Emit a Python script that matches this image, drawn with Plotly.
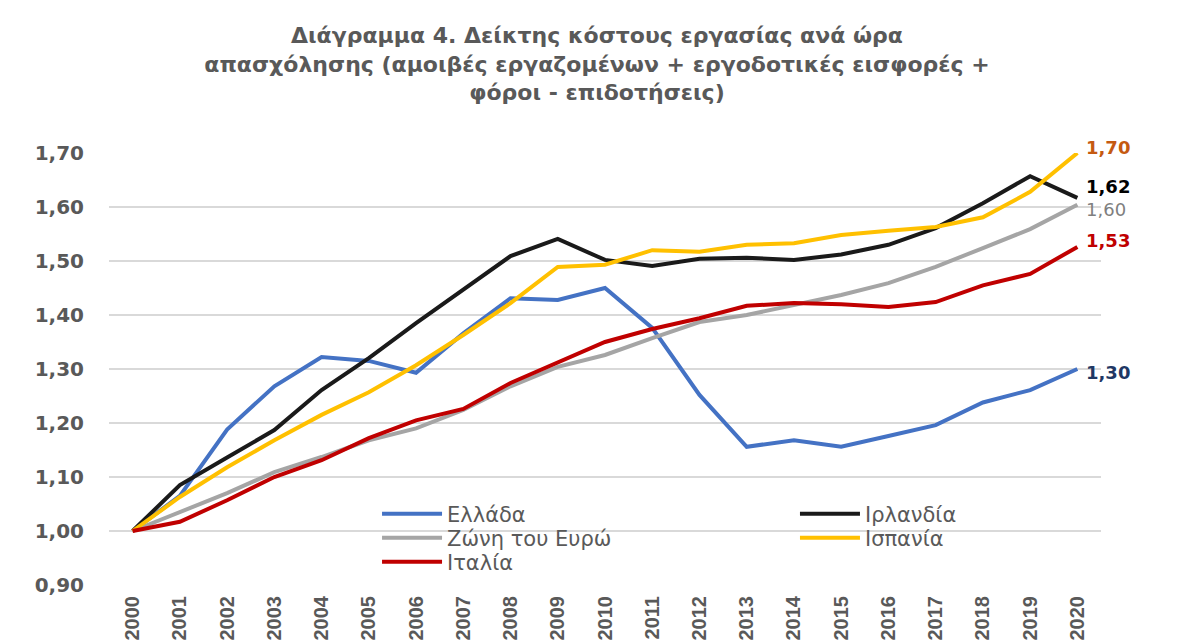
import plotly.graph_objects as go

years = [str(y) for y in range(2000, 2021)]
greece = [1.00, 1.065, 1.188, 1.268, 1.322, 1.315, 1.293, 1.366, 1.431, 1.428, 1.450,
          1.376, 1.252, 1.156, 1.168, 1.156, 1.176, 1.196, 1.238, 1.261, 1.30]
ireland = [1.00, 1.085, 1.136, 1.187, 1.261, 1.320, 1.385, 1.448, 1.509, 1.541, 1.502,
           1.491, 1.504, 1.506, 1.502, 1.512, 1.530, 1.561, 1.607, 1.657, 1.617]
eurozone = [1.00, 1.035, 1.070, 1.109, 1.137, 1.168, 1.190, 1.224, 1.268, 1.304, 1.326,
            1.357, 1.387, 1.400, 1.419, 1.437, 1.459, 1.489, 1.524, 1.559, 1.604]
spain = [1.00, 1.063, 1.118, 1.168, 1.215, 1.257, 1.307, 1.363, 1.422, 1.489, 1.493,
         1.520, 1.517, 1.530, 1.533, 1.548, 1.556, 1.563, 1.581, 1.628, 1.700]
italy = [1.00, 1.017, 1.057, 1.100, 1.131, 1.172, 1.205, 1.226, 1.274, 1.311, 1.350,
         1.374, 1.394, 1.417, 1.422, 1.420, 1.415, 1.424, 1.455, 1.476, 1.526]

names = ["Ελλάδα", "Ιρλανδία", "Ζώνη του Ευρώ", "Ισπανία", "Ιταλία"]
title_text = ("Διάγραμμα 4. Δείκτης κόστους εργασίας ανά ώρα<br>"
              "απασχόλησης (αμοιβές εργαζομένων + εργοδοτικές εισφορές +<br>"
              "φόροι - επιδοτήσεις)")

# (name, values, colour, legend id, legend column, legend row)
series = [
    (names[0], greece, "#4472C4", "legend", 0, 0),
    (names[1], ireland, "#1A1A1A", "legend2", 1, 0),
    (names[2], eurozone, "#A5A5A5", "legend3", 0, 1),
    (names[3], spain, "#FFC000", "legend4", 1, 1),
    (names[4], italy, "#C00000", "legend5", 0, 2),
]

fig = go.Figure()
for name, vals, color, lg, _, _ in series:
    fig.add_trace(go.Scatter(
        x=years, y=vals, mode="lines", name=name,
        line=dict(color=color, width=4),
        legend=lg, showlegend=True, hoverinfo="x+y+name",
    ))

# End labels (placed at the last category)
last_idx = len(years) - 1
end_labels = [
    (spain[-1], "#C55A11", True, 6),
    (ireland[-1], "#000000", True, 11),
    (eurozone[-1], "#7F7F7F", False, -5),
    (italy[-1], "#C00000", True, 6),
    (greece[-1], "#1F3864", True, -3),
]
for val, col, bold, ysh in end_labels:
    txt = f"{val:.2f}".replace(".", ",")
    if bold:
        txt = f"<b>{txt}</b>"
    fig.add_annotation(x=last_idx, y=val, xref="x", yref="y", text=txt, showarrow=False,
                       xanchor="left", xshift=8, yshift=ysh, borderpad=0,
                       font=dict(family="DejaVu Sans", size=18, color=col))

legend_font = dict(family="DejaVu Sans", size=21, color="#595959")
col_x = [0.2702, 0.6915]
row_px = [514, 538, 562]

legends = {}
for _, _, _, lg, c, r in series:
    legends[lg] = dict(x=col_x[c], y=(585 - row_px[r]) / 432,
                       xanchor="left", yanchor="middle", bgcolor="rgba(0,0,0,0)",
                       font=legend_font, itemwidth=60)

# page body has an 8px margin; margins compensate so the plot lands where intended
fig.update_layout(
    width=1181, height=644,
    showlegend=True,
    paper_bgcolor="white", plot_bgcolor="white",
    margin=dict(l=101, r=88, t=145, b=67),
    separators=", ",
    title=dict(text=f"<b>{title_text}</b>", x=589 / 1181, xanchor="center", xref="container",
               y=1 - 35 / 644, yanchor="top",
               font=dict(family="DejaVu Sans", size=22, color="#595959")),
    xaxis=dict(type="category", range=[-0.5, 20.5], showgrid=False, zeroline=False,
               showline=False, tickangle=-90, ticks="", ticklabelstandoff=6,
               tickfont=dict(family="Liberation Sans Narrow, Liberation Sans", size=20,
                             color="#595959", weight="bold")),
    yaxis=dict(range=[0.9, 1.7], dtick=0.1, tick0=0.9, tickformat=".2f",
               showgrid=True, gridcolor="#D9D9D9", gridwidth=1.5, zeroline=False,
               showline=False, ticks="", ticklabelstandoff=24,
               tickfont=dict(family="DejaVu Sans", size=20, color="#595959", weight="bold")),
    shapes=[dict(type="rect", xref="paper", yref="paper",
                 x0=(5 - 109) / 992, x1=(1177 - 109) / 992,
                 y0=(585 - 660) / 432, y1=(585 - 5) / 432,
                 line=dict(color="#D9D9D9", width=2), fillcolor="rgba(0,0,0,0)",
                 layer="below")],
    **legends,
)

fig.write_html("out.html")
